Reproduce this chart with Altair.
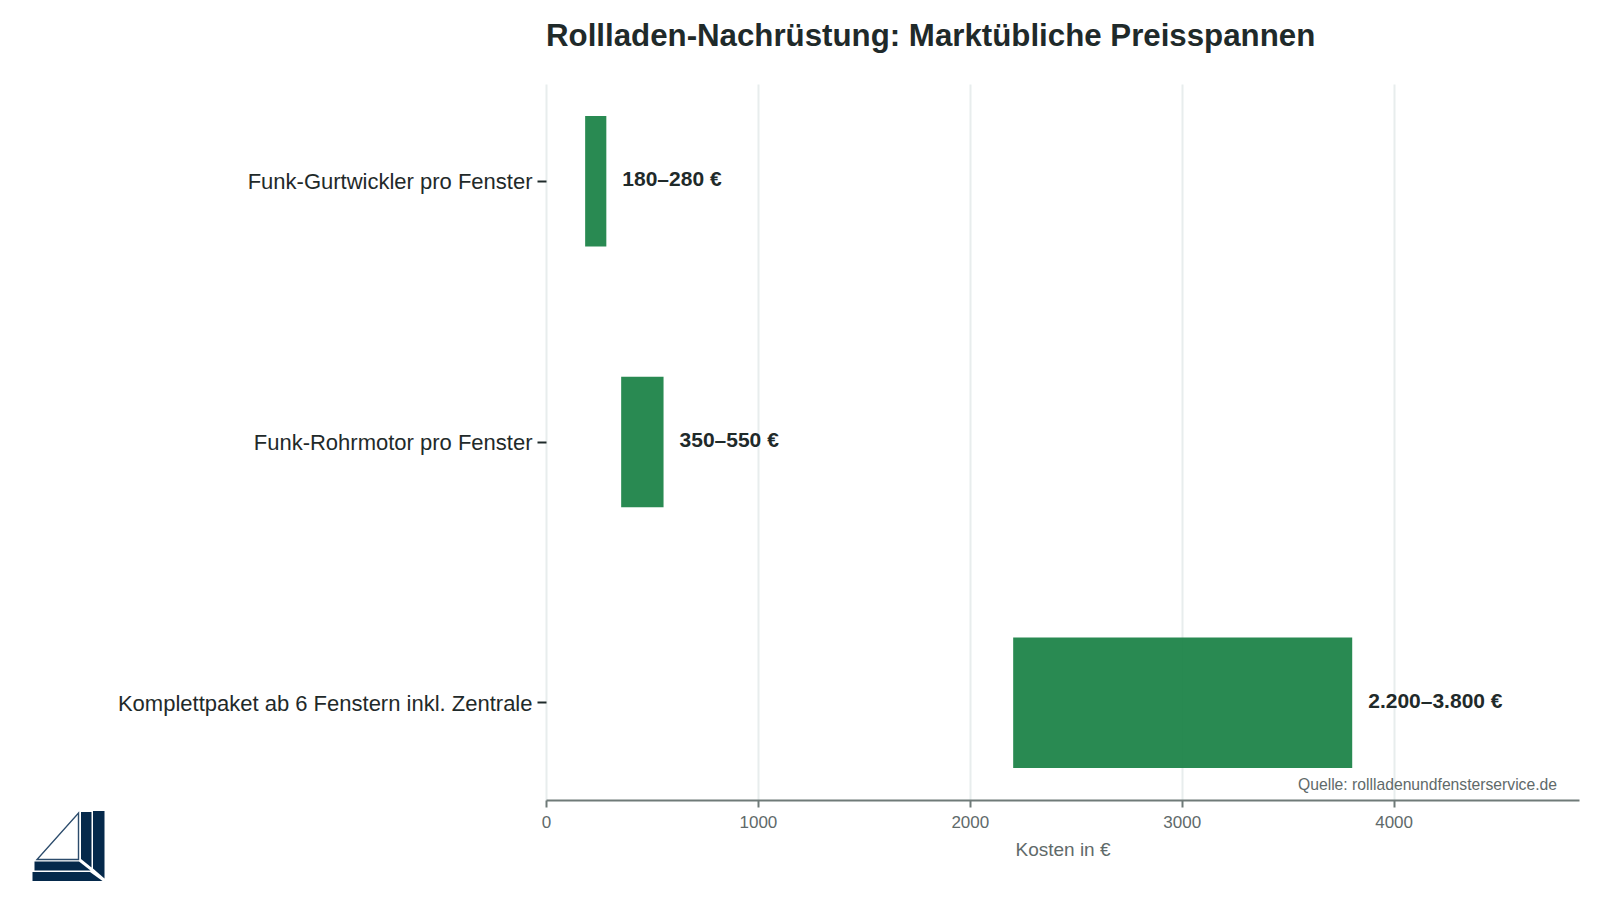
import urllib.parse

import altair as alt
import pandas as pd

categories = ['Funk-Gurtwickler pro Fenster', 'Funk-Rohrmotor pro Fenster',
              'Komplettpaket ab 6 Fenstern inkl. Zentrale']
low = [180, 350, 2200]
high = [280, 550, 3800]
labels = ['180–280 €', '350–550 €', '2.200–3.800 €']
x_ticks = [0, 1000, 2000, 3000, 4000]

FONT = 'Liberation Sans'
GREEN = '#1e8449'
DARK = '#1f2a2a'
GREY = '#5f6a6a'

# logo as inline svg, the original has it pasted in as a picture
logo_svg = (
    '<svg xmlns="http://www.w3.org/2000/svg" viewBox="0 0 80 75" width="80" height="75">'
    '<g fill="#05294b">'
    '<path d="M0.5 61 L58 61 L70.5 70 L0.5 70 Z"/>'
    '<path d="M2.5 50.5 L47 50.5 L58.5 59.5 L2.5 59.5 Z"/>'
    '<path d="M61 0 L72.5 0 L72.5 67.5 L61 57.5 Z"/>'
    '<path d="M49 1 L59.5 1 L59.5 56.5 L49 48 Z"/>'
    '</g>'
    '<path d="M46.5 2 L46.5 48.5 L5 48.5 Z" fill="none" stroke="#2c4c6c" stroke-width="1.4"/>'
    '</svg>'
)
logo_url = 'data:image/svg+xml,' + urllib.parse.quote(logo_svg)

df = pd.DataFrame({'category': categories, 'low': low, 'high': high, 'label': labels})

x_axis = alt.Axis(title='Kosten in €', values=x_ticks, format='d', grid=True,
    gridColor='#e8eded', gridWidth=2, domainColor='#6f7a78', domainWidth=2,
    tickColor='#6f7a78', tickSize=7, tickWidth=2, labelFontSize=17, titleFontSize=19,
    labelColor=GREY, titleColor=GREY, labelFont=FONT, titleFont=FONT, labelFlush=False,
    labelPadding=7, titlePadding=10, titleFontWeight='normal')
y_axis = alt.Axis(title=None, domain=False, grid=False, tickColor=DARK, tickSize=9,
    tickWidth=2, labelFontSize=22, labelColor=DARK, labelFont=FONT, labelPadding=5,
    labelLimit=500, labelOffset=1)

x_enc = alt.X('low:Q', axis=x_axis, scale=alt.Scale(domain=[0, 4875], nice=False))
y_enc = alt.Y('category:N', sort=categories, axis=y_axis,
    scale=alt.Scale(paddingInner=0.5, paddingOuter=0.1226))

bars = alt.Chart(df).mark_bar(color=GREEN, opacity=0.95, xOffset=1, x2Offset=1).encode(
    x=x_enc, x2='high:Q', y=y_enc)

bar_labels = alt.Chart(df).mark_text(align='left', baseline='middle', dx=17, dy=-1,
    font=FONT, fontSize=21, fontWeight='bold', color=DARK).encode(
    x=alt.X('high:Q'), y=alt.Y('category:N', sort=categories), text='label:N')

source = alt.Chart(pd.DataFrame({'t': ['Quelle: rollladenundfensterservice.de']})).mark_text(
    align='right', baseline='alphabetic', font=FONT, fontSize=15.7, color=GREY).encode(
    x=alt.value(1011), y=alt.value(706), text='t:N')

logo = alt.Chart(pd.DataFrame({'u': [logo_url]})).mark_image(
    width=80, height=75, align='left', baseline='top').encode(
    url='u:N', x=alt.value(-514), y=alt.value(727))

chart = alt.layer(bars, bar_labels, source, logo).properties(
    width=1033,
    height=716,
    autosize=alt.AutoSizeParams(type='none'),
    padding={'left': 538, 'top': 76, 'right': 10, 'bottom': 90},
    title=alt.TitleParams('Rollladen-Nachrüstung: Marktübliche Preisspannen',
        anchor='start', frame='group', font=FONT, fontSize=31.25, fontWeight='bold',
        color=DARK, offset=32),
).configure_view(stroke=None)

chart.save('out.html', embed_options={'renderer': 'svg', 'actions': False})
